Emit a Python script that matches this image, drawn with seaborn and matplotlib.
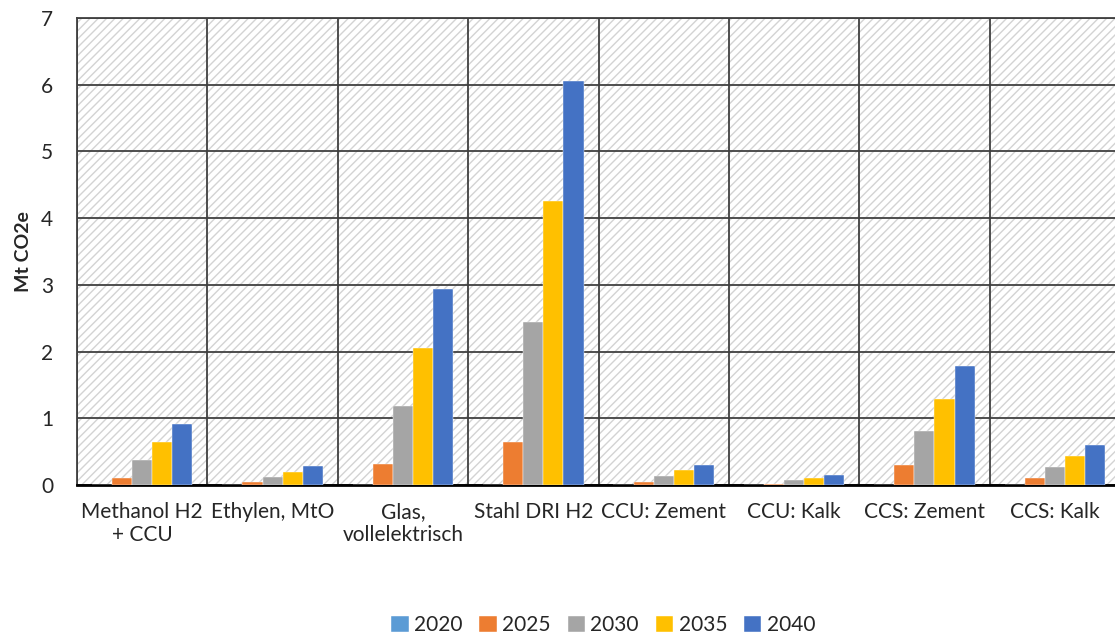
import pandas as pd
import matplotlib.pyplot as plt
import seaborn as sns
from matplotlib.patches import Rectangle

# Chart data
categories = ["Methanol H2\n+ CCU", "Ethylen, MtO", "Glas,\nvollelektrisch", "Stahl DRI H2",
              "CCU: Zement", "CCU: Kalk", "CCS: Zement", "CCS: Kalk"]
years = ["2020", "2025", "2030", "2035", "2040"]
v2020 = [0.0, 0.0, 0.0, 0.0, 0.0, 0.0, 0.0, 0.0]
v2025 = [0.10, 0.04, 0.31, 0.645, 0.05, 0.01, 0.30, 0.10]
v2030 = [0.37, 0.12, 1.19, 2.45, 0.13, 0.07, 0.81, 0.27]
v2035 = [0.64, 0.20, 2.06, 4.26, 0.22, 0.11, 1.29, 0.43]
v2040 = [0.91, 0.28, 2.94, 6.06, 0.30, 0.15, 1.78, 0.60]
colors = ["#5B9BD5", "#ED7D31", "#A5A5A5", "#FFC000", "#4472C4"]

rows = []
for year, vals in zip(years, [v2020, v2025, v2030, v2035, v2040]):
    for cat, v in zip(categories, vals):
        rows.append({"cat": cat, "year": year, "value": v})
df = pd.DataFrame(rows)

sns.set_style("white")
plt.rcParams["font.family"] = ["Lato", "DejaVu Sans"]
plt.rcParams["hatch.color"] = "#D3D3D3"
plt.rcParams["hatch.linewidth"] = 1.0

fig = plt.figure(figsize=(11.15, 6.38), dpi=100)
ax = fig.add_axes([77 / 1115, 1 - 485 / 638, 1043 / 1115, 467 / 638])

# hatched plot background
ax.add_patch(Rectangle((0, 0), 1, 1, transform=ax.transAxes, facecolor="white",
                       edgecolor="#D3D3D3", hatch="////", linewidth=0, zorder=0))

sns.barplot(data=df, x="cat", y="value", hue="year", palette=colors, width=0.77,
            saturation=1, edgecolor="white", linewidth=0.3, ax=ax, zorder=3)

ax.set_xlim(-0.5, 7.5)
ax.set_ylim(0, 7)
ax.set_yticks(range(0, 8))
ax.set_xticks(range(len(categories)))
ax.set_xticklabels(categories)
ax.set_xticks([i - 0.5 for i in range(len(categories) + 1)], minor=True)
ax.tick_params(axis="x", which="major", length=0, labelsize=15, pad=12)
ax.tick_params(axis="x", which="minor", length=8, width=2, color="black", direction="out")
ax.tick_params(axis="y", length=0, labelsize=15, pad=17)

ax.grid(True, axis="y", which="major", color="#404040", linewidth=1.3, zorder=1)
ax.grid(True, axis="x", which="minor", color="#404040", linewidth=1.3, zorder=1)
ax.grid(False, axis="x", which="major")
ax.set_axisbelow(True)

for side in ["left", "top", "right"]:
    ax.spines[side].set_color("#404040")
    ax.spines[side].set_linewidth(1.3)
ax.spines["bottom"].set_color("black")
ax.spines["bottom"].set_linewidth(2)

ax.set_xlabel("")
ax.set_ylabel("Mt CO2e", fontsize=14, fontweight="bold", labelpad=7)

handles, labels = ax.get_legend_handles_labels()
ax.legend_.remove()
fig.legend(handles, labels, loc="lower center", bbox_to_anchor=(0.541, -0.025), ncol=5,
           frameon=False, fontsize=15, handlelength=0.85, handleheight=0.85,
           handletextpad=0.25, columnspacing=0.8)

fig.savefig("out.png", dpi=100)
